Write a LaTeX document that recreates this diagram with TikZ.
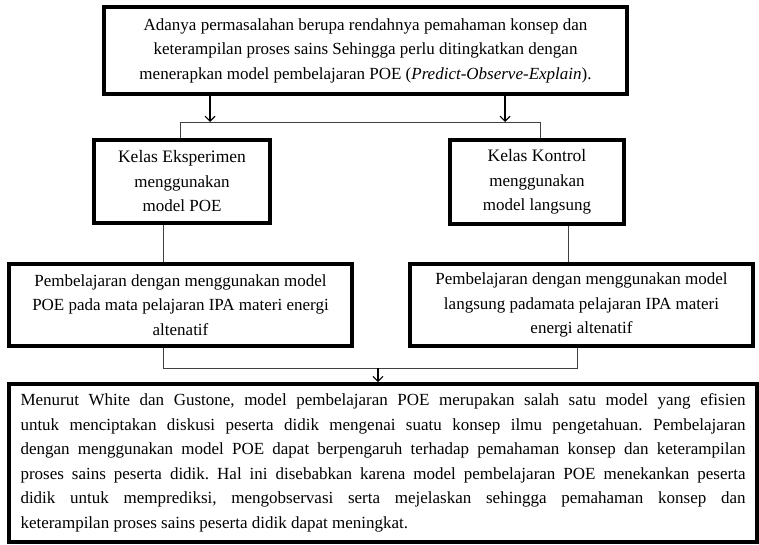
\documentclass[tikz,border=0pt]{standalone}
\usepackage{fontspec}
\setmainfont{Liberation Serif}
\usetikzlibrary{arrows.meta}
\frenchspacing
\begin{document}
\begin{tikzpicture}[x=1pt,y=-1pt,
  box/.style={draw=black,line width=3.6pt,inner sep=0pt,align=center,
    font=\fontsize{17}{24.5}\selectfont},
  conn/.style={draw=black!75,line width=0.9pt},
  arr/.style={draw=black,line width=1.1pt,-{Straight Barb[length=5pt,width=10pt,line width=1.1pt]}}]
\useasboundingbox (0,0) rectangle (759,545);
% boxes (centre, size)
\node[box,minimum width=523pt,minimum height=87pt] (top) at (365.5,50.5)
 {Adanya permasalahan berupa rendahnya pemahaman konsep dan\\
  keterampilan proses sains Sehingga perlu ditingkatkan dengan\\
  menerapkan model pembelajaran POE (\textit{Predict-Observe-Explain}).};
\node[box,minimum width=176pt,minimum height=83pt] (ke) at (182,181.5)
 {\fontsize{17.5}{24.5}\selectfont Kelas Eksperimen\\menggunakan\\model POE};
\node[box,minimum width=174pt,minimum height=84pt] (kk) at (537,182)
 {\fontsize{17.5}{24.5}\selectfont Kelas Kontrol\\menggunakan\\model langsung};
\node[box,minimum width=343pt,minimum height=82pt] (pl) at (180.5,305)
 {Pembelajaran dengan menggunakan model\\
  POE pada mata pelajaran IPA materi energi\\altenatif};
\node[box,minimum width=343pt,minimum height=82pt] (pr) at (581.5,305)
 {Pembelajaran dengan menggunakan model\\
  langsung padamata pelajaran IPA materi\\energi altenatif};
\node[box,minimum width=748pt,minimum height=158pt,align=justify,text width=725pt] (bt) at (383,463)
 {Menurut White dan Gustone, model pembelajaran POE merupakan salah satu model yang efisien\linebreak
  untuk menciptakan diskusi peserta didik mengenai suatu konsep ilmu pengetahuan. Pembelajaran\linebreak
  dengan menggunakan model POE dapat berpengaruh terhadap pemahaman konsep dan keterampilan\linebreak
  proses sains peserta didik. Hal ini disebabkan karena model pembelajaran POE menekankan peserta\linebreak
  didik untuk memprediksi, mengobservasi serta mejelaskan sehingga pemahaman konsep dan\linebreak
  keterampilan proses sains peserta didik dapat meningkat.};
% junction coordinates
\coordinate (ja) at (210,122);
\coordinate (jb) at (505,122);
\coordinate (hl) at (180,122);
\coordinate (hr) at (540,122);
\coordinate (vr) at (568,0);
\coordinate (ml) at (163,368);
\coordinate (mr) at (577,368);
\coordinate (mc) at (378,368);
% connectors
\draw[arr] (top.south -| ja) -- (ja);
\draw[arr] (top.south -| jb) -- (jb);
\draw[conn] (ke.north -| hl) -- (hl) -- (hr) -- (kk.north -| hr);
\draw[conn] (ke.south -| ml) -- (pl.north -| ml);
\draw[conn] (kk.south -| vr) -- (pr.north -| vr);
\draw[conn] (pl.south -| ml) -- (ml) -- (mr) -- (pr.south -| mr);
\draw[arr] (mc) -- (bt.north -| mc);
\end{tikzpicture}
\end{document}
